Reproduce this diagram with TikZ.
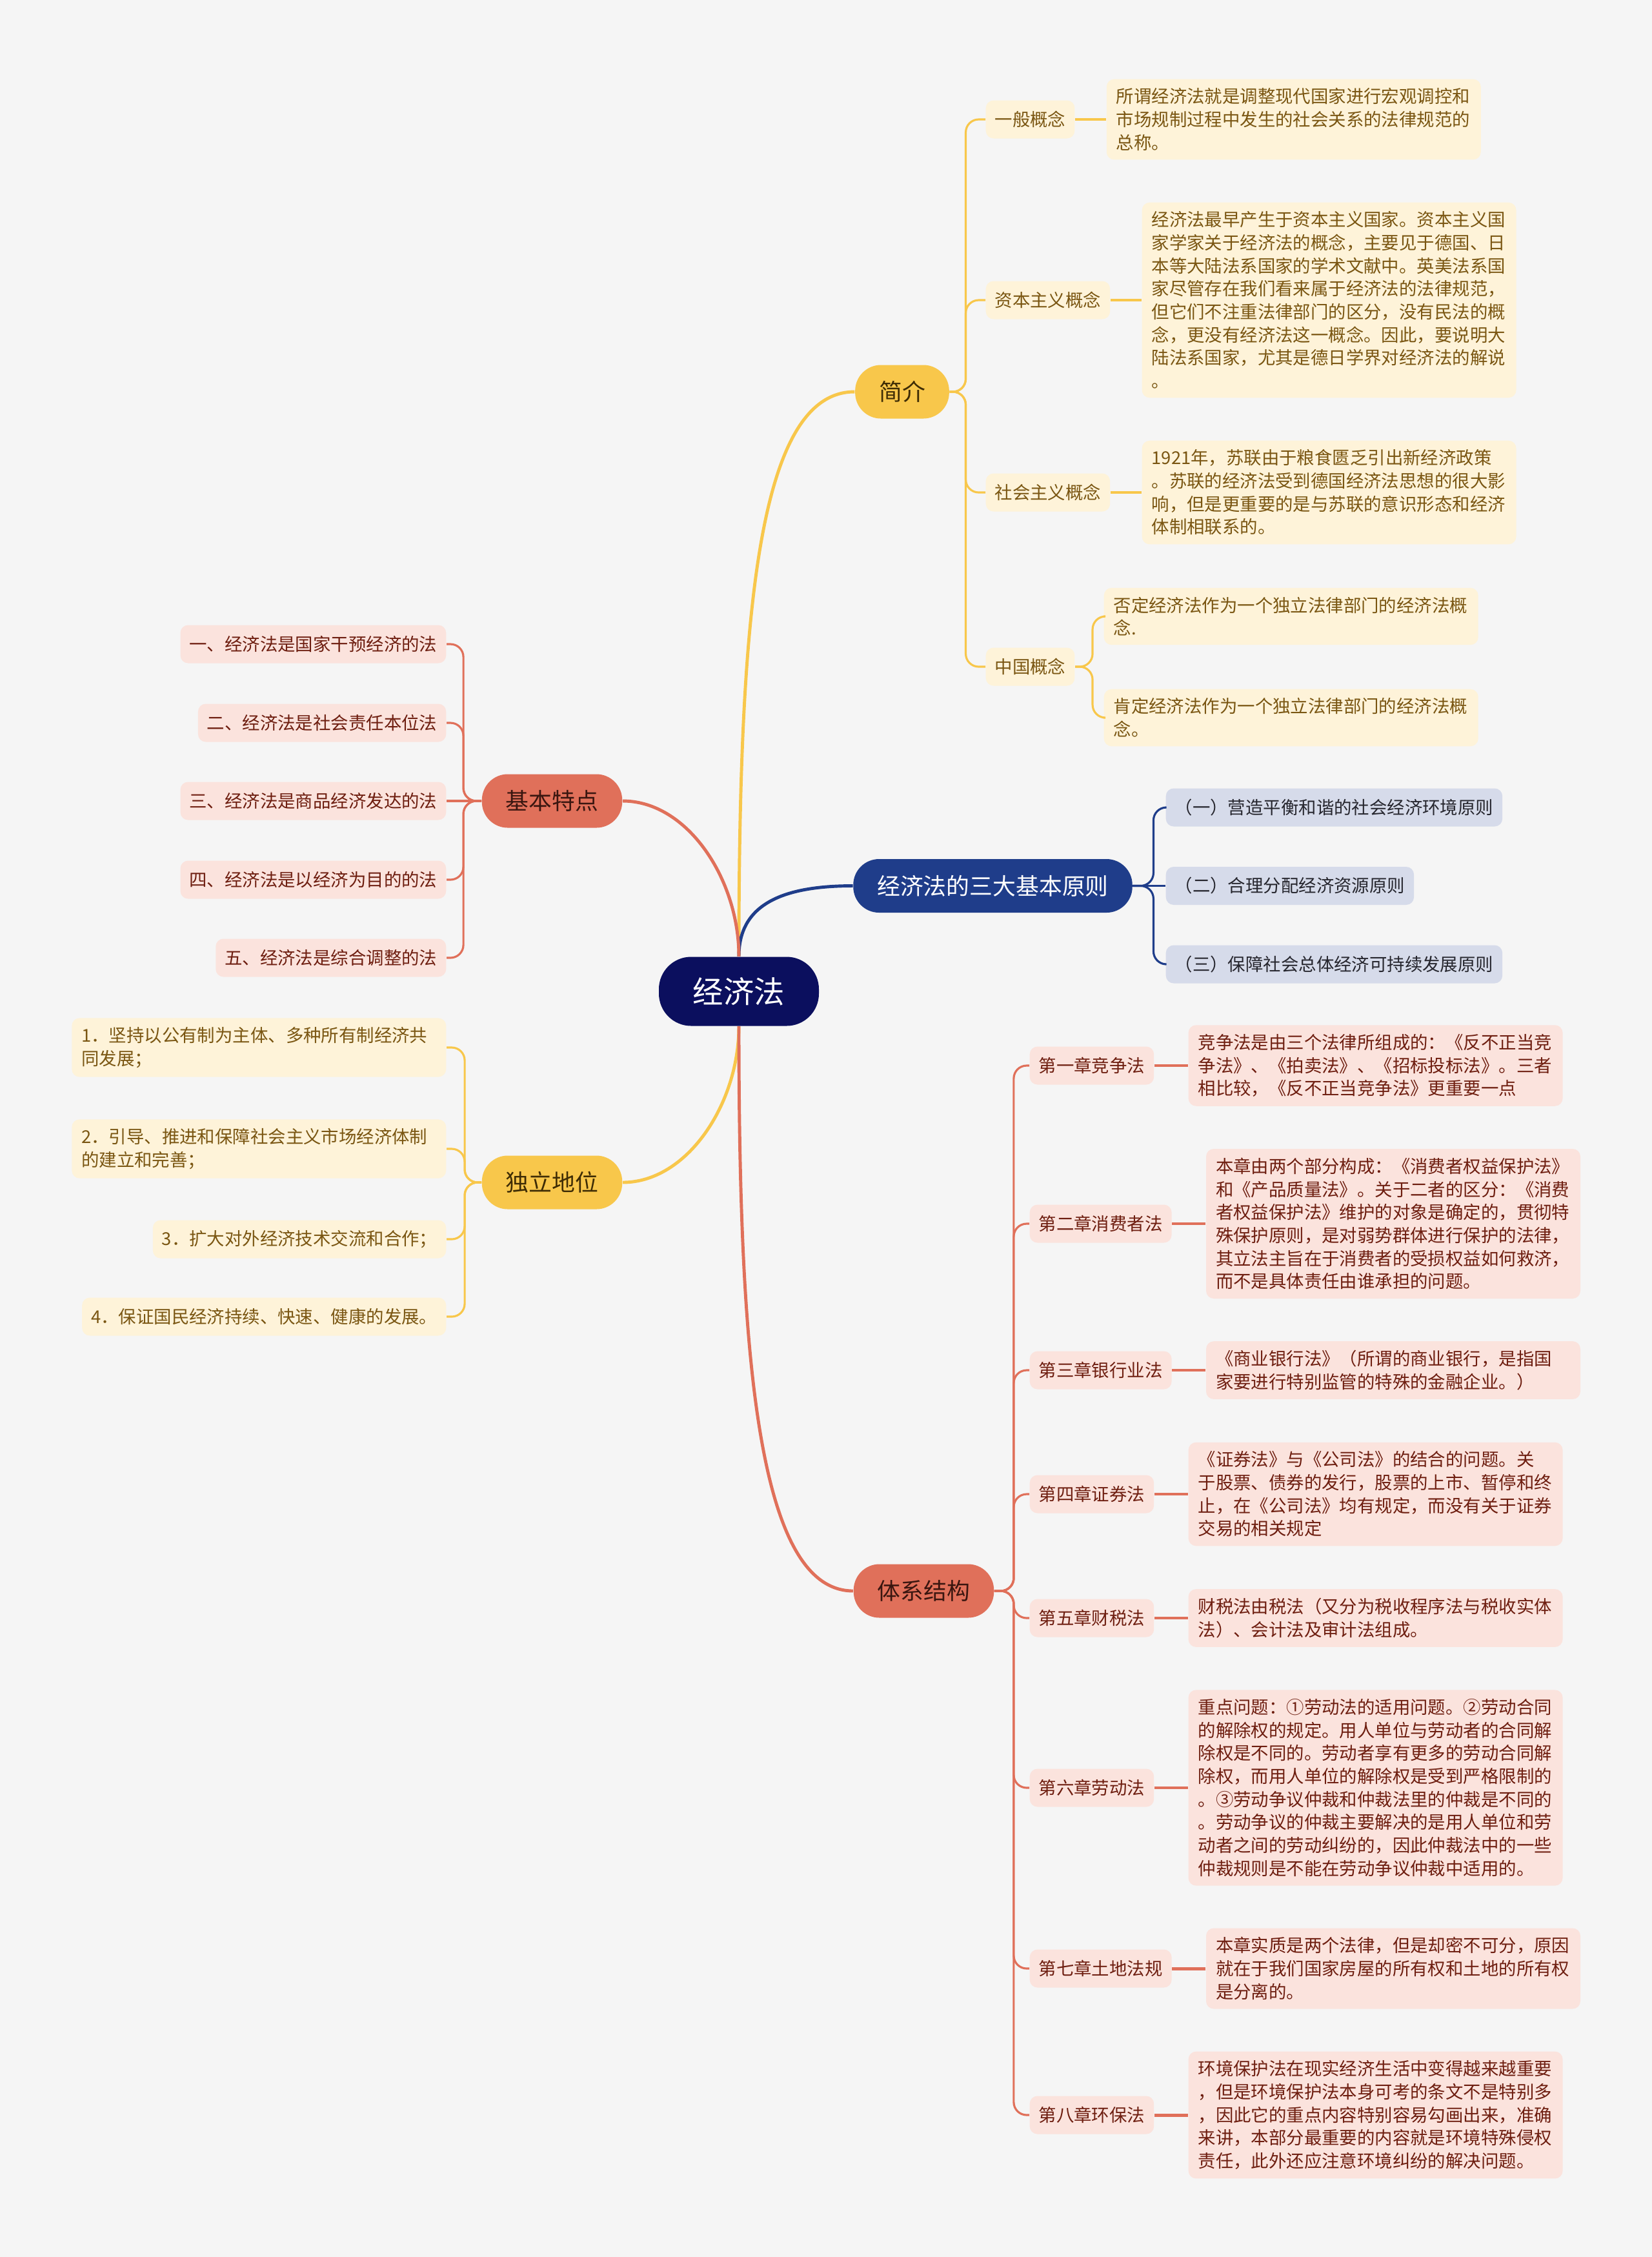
\documentclass[tikz,border=0pt]{standalone}
\usepackage{fontspec}
\setmainfont{Noto Sans CJK SC}
\usetikzlibrary{positioning}
\definecolor{bgc}{HTML}{F5F5F5}
\definecolor{rootc}{HTML}{0B0F5E}
\definecolor{navy}{HTML}{1F3D8A}
\definecolor{navyl}{HTML}{D6DBEA}
\definecolor{navyt}{HTML}{26262E}
\definecolor{ylw}{HTML}{F8C74B}
\definecolor{ylwl}{HTML}{FEF3D9}
\definecolor{ylwt}{HTML}{7A5612}
\definecolor{ylwd}{HTML}{3E2C05}
\definecolor{salm}{HTML}{E0705A}
\definecolor{salml}{HTML}{FBE3DD}
\definecolor{salmt}{HTML}{6E1E10}
\definecolor{salmd}{HTML}{3A1610}

\begin{document}
\begin{tikzpicture}[y=-1cm,
rootbox/.style={fill=rootc,text=white,rounded corners=5mm,minimum width=24.8mm,minimum height=10.7mm,font=\fontsize{13.5}{16}\selectfont},
lvone/.style={rounded corners=4mm,minimum height=8.3mm,inner xsep=3.7mm,font=\fontsize{10.2}{12}\selectfont},
lvtwo/.style={rounded corners=1.2mm,minimum height=5.9mm,inner xsep=1.4mm,inner ysep=1mm,font=\fontsize{7.8}{10.15}\selectfont},
leafbox/.style={lvtwo,text width=55mm,align=left,inner xsep=1.5mm,inner ysep=1.4mm},
yl/.style={fill=ylwl,text=ylwt},
sl/.style={fill=salml,text=salmt},
nl/.style={fill=navyl,text=navyt},
ln/.style={line width=1.4pt},
lk/.style={line width=1.4pt},
br/.style={line width=0.9pt,rounded corners=2mm}]
\path[use as bounding box,fill=bgc] (0,0) rectangle (25.6,34.97);

\node[rootbox] (root) at (11.45,15.36) {经济法};
\node[lvone,fill=ylw,text=ylwd] (jj) at (13.98,6.07) {简介};
\node[lvone,fill=navy,text=white] (yz) at (15.385,13.725) {经济法的三大基本原则};
\node[lvone,fill=salm,text=salmd] (td) at (8.555,12.41) {基本特点};
\node[lvone,fill=ylw,text=ylwd] (dl) at (8.555,18.32) {独立地位};
\node[lvone,fill=salm,text=salmd] (tx) at (14.315,24.65) {体系结构};

\node[lvtwo,yl,anchor=west] (g1) at (15.27,1.85) {一般概念};
\node[leafbox,yl,right=4.8mm of g1] (l1) {所谓经济法就是调整现代国家进行宏观调控和\\市场规制过程中发生的社会关系的法律规范的\\总称。};
\node[lvtwo,yl,anchor=west] (g2) at (15.27,4.65) {资本主义概念};
\node[leafbox,yl,right=4.8mm of g2] (l2) {经济法最早产生于资本主义国家。资本主义国\\家学家关于经济法的概念，主要见于德国、日\\本等大陆法系国家的学术文献中。英美法系国\\家尽管存在我们看来属于经济法的法律规范，\\但它们不注重法律部门的区分，没有民法的概\\念，更没有经济法这一概念。因此，要说明大\\陆法系国家，尤其是德日学界对经济法的解说\\。};
\node[lvtwo,yl,anchor=west] (g3) at (15.27,7.63) {社会主义概念};
\node[leafbox,yl,right=4.8mm of g3] (l3) {1921年，苏联由于粮食匮乏引出新经济政策\\。苏联的经济法受到德国经济法思想的很大影\\响，但是更重要的是与苏联的意识形态和经济\\体制相联系的。};
\node[lvtwo,yl,anchor=west] (g4) at (15.27,10.33) {中国概念};
\node[leafbox,yl,anchor=west] (l4a) at (17.10,9.55) {否定经济法作为一个独立法律部门的经济法概\\念.};
\node[leafbox,yl,anchor=west] (l4b) at (17.10,11.12) {肯定经济法作为一个独立法律部门的经济法概\\念。};

\node[lvtwo,nl,anchor=west] (p1) at (18.06,12.51) {（一）营造平衡和谐的社会经济环境原则};
\node[lvtwo,nl,anchor=west] (p2) at (18.06,13.725) {（二）合理分配经济资源原则};
\node[lvtwo,nl,anchor=west] (p3) at (18.06,14.94) {（三）保障社会总体经济可持续发展原则};

\node[lvtwo,sl,anchor=east] (t1) at (6.92,9.98) {一、经济法是国家干预经济的法};
\node[lvtwo,sl,anchor=east] (t2) at (6.92,11.20) {二、经济法是社会责任本位法};
\node[lvtwo,sl,anchor=east] (t3) at (6.92,12.41) {三、经济法是商品经济发达的法};
\node[lvtwo,sl,anchor=east] (t4) at (6.92,13.63) {四、经济法是以经济为目的的法};
\node[lvtwo,sl,anchor=east] (t5) at (6.92,14.84) {五、经济法是综合调整的法};

\node[leafbox,yl,anchor=east] (d1) at (6.92,16.23) {1．坚持以公有制为主体、多种所有制经济共\\同发展；};
\node[leafbox,yl,anchor=east] (d2) at (6.92,17.80) {2．引导、推进和保障社会主义市场经济体制\\的建立和完善；};
\node[lvtwo,yl,anchor=east] (d3) at (6.92,19.20) {3．扩大对外经济技术交流和合作；};
\node[lvtwo,yl,anchor=east] (d4) at (6.92,20.40) {4．保证国民经济持续、快速、健康的发展。};

\node[lvtwo,sl,anchor=west] (c1) at (15.95,16.51) {第一章竞争法};
\node[leafbox,sl,right=5.2mm of c1] (k1) {竞争法是由三个法律所组成的：《反不正当竞\\争法》、《拍卖法》、《招标投标法》。三者\\相比较，《反不正当竞争法》更重要一点};
\node[lvtwo,sl,anchor=west] (c2) at (15.95,18.96) {第二章消费者法};
\node[leafbox,sl,right=5.2mm of c2] (k2) {本章由两个部分构成：《消费者权益保护法》\\和《产品质量法》。关于二者的区分：《消费\\者权益保护法》维护的对象是确定的，贯彻特\\殊保护原则，是对弱势群体进行保护的法律，\\其立法主旨在于消费者的受损权益如何救济，\\而不是具体责任由谁承担的问题。};
\node[lvtwo,sl,anchor=west] (c3) at (15.95,21.23) {第三章银行业法};
\node[leafbox,sl,right=5.2mm of c3] (k3) {《商业银行法》（所谓的商业银行，是指国\\家要进行特别监管的特殊的金融企业。）};
\node[lvtwo,sl,anchor=west] (c4) at (15.95,23.15) {第四章证券法};
\node[leafbox,sl,right=5.2mm of c4] (k4) {《证券法》与《公司法》的结合的问题。关\\于股票、债券的发行，股票的上市、暂停和终\\止，在《公司法》均有规定，而没有关于证券\\交易的相关规定};
\node[lvtwo,sl,anchor=west] (c5) at (15.95,25.07) {第五章财税法};
\node[leafbox,sl,right=5.2mm of c5] (k5) {财税法由税法（又分为税收程序法与税收实体\\法）、会计法及审计法组成。};
\node[lvtwo,sl,anchor=west] (c6) at (15.95,27.70) {第六章劳动法};
\node[leafbox,sl,right=5.2mm of c6] (k6) {重点问题：①劳动法的适用问题。②劳动合同\\的解除权的规定。用人单位与劳动者的合同解\\除权是不同的。劳动者享有更多的劳动合同解\\除权，而用人单位的解除权是受到严格限制的\\。③劳动争议仲裁和仲裁法里的仲裁是不同的\\。劳动争议的仲裁主要解决的是用人单位和劳\\动者之间的劳动纠纷的，因此仲裁法中的一些\\仲裁规则是不能在劳动争议仲裁中适用的。};
\node[lvtwo,sl,anchor=west] (c7) at (15.95,30.50) {第七章土地法规};
\node[leafbox,sl,right=5.2mm of c7] (k7) {本章实质是两个法律，但是却密不可分，原因\\就在于我们国家房屋的所有权和土地的所有权\\是分离的。};
\node[lvtwo,sl,anchor=west] (c8) at (15.95,32.77) {第八章环保法};
\node[leafbox,sl,right=5.2mm of c8] (k8) {环境保护法在现实经济生活中变得越来越重要\\，但是环境保护法本身可考的条文不是特别多\\，因此它的重点内容特别容易勾画出来，准确\\来讲，本部分最重要的内容就是环境特殊侵权\\责任，此外还应注意环境纠纷的解决问题。};

\draw[ln,ylw] (root.north) .. controls +(0,-5.3) and +(-1.5,0) .. (jj.west);
\draw[ln,navy] (root.north) .. controls +(0,-0.8) and +(-1.1,0) .. (yz.west);
\draw[ln,salm] (root.north) .. controls +(0,-1.2) and +(1.0,0) .. (td.east);
\draw[ln,ylw] (root.south) .. controls +(0,1.2) and +(1.0,0) .. (dl.east);
\draw[ln,salm] (root.south) .. controls +(0,5.0) and +(-1.5,0) .. (tx.west);

\foreach \c in {g1,g2,g3,g4} \draw[br,ylw] (jj.east) -- ++(0.25,0) |- (\c.west);
\foreach \c in {l4a,l4b} \draw[br,ylw] (g4.east) -- ++(0.27,0) |- (\c.west);
\foreach \c in {p1,p3} \draw[br,navy] (yz.east) -- ++(0.32,0) |- (\c.west);
\draw[br,navy] (yz) -- (p2);
\foreach \c in {t1,t2,t4,t5} \draw[br,salm] (td.west) -- ++(-0.28,0) |- (\c.east);
\draw[br,salm] (td) -- (t3);
\foreach \c in {d1,d2,d3,d4} \draw[br,ylw] (dl.west) -- ++(-0.26,0) |- (\c.east);
\foreach \c in {c1,c2,c3,c4,c5,c6,c7,c8} \draw[br,salm] (tx.east) -- ++(0.3,0) |- (\c.west);

\draw[lk,ylw] (g1) -- (l1);
\draw[lk,ylw] (g2) -- (l2);
\draw[lk,ylw] (g3) -- (l3);
\draw[lk,salm] (c1) -- (k1);
\draw[lk,salm] (c2) -- (k2);
\draw[lk,salm] (c3) -- (k3);
\draw[lk,salm] (c4) -- (k4);
\draw[lk,salm] (c5) -- (k5);
\draw[lk,salm] (c6) -- (k6);
\draw[lk,salm] (c7) -- (k7);
\draw[lk,salm] (c8) -- (k8);
\end{tikzpicture}
\end{document}
